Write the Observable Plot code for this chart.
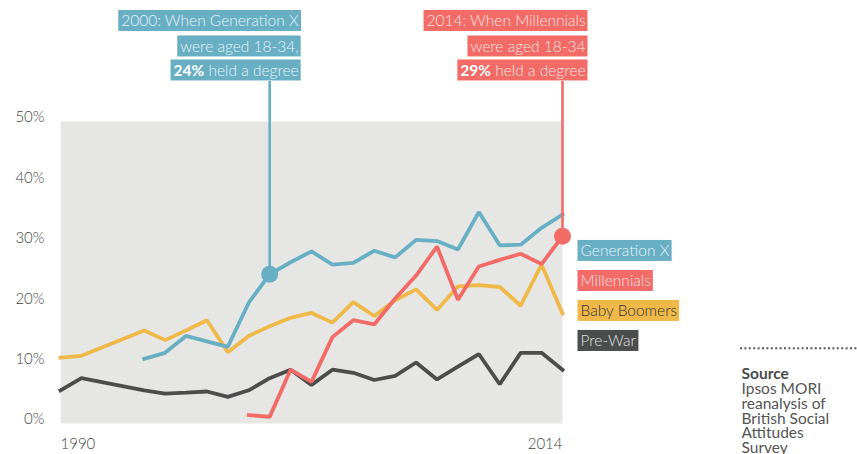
<!DOCTYPE html>
<html><head><meta charset="utf-8">
<script src="https://cdn.jsdelivr.net/npm/d3@7"></script>
<script src="https://cdn.jsdelivr.net/npm/@observablehq/plot@0.6"></script>
<style>
html,body{margin:0;padding:0;background:#fff;}
#chart svg{display:block;}
</style></head><body>
<div id="chart"></div>
<script>
// ---------- data ----------
const years = [1990,1991,1994,1995,1996,1997,1998,1999,2000,2001,2002,2003,2004,2005,2006,2007,2008,2009,2010,2011,2012,2013,2014];
const preWar      = [5.5,7.5,5.5,4.95,5.1,5.3,4.4,5.5,7.5,8.9,6.4,8.9,8.4,7.2,7.9,10.1,7.3,9.4,11.5,6.5,11.7,11.7,8.9];
const babyBoomers = [10.9,11.2,15.4,13.8,15.4,17.1,11.8,14.5,16.1,17.5,18.3,16.7,20.1,17.8,20.4,22.2,18.8,22.7,22.9,22.6,19.5,26.3,18.2];
const generationX = [null,null,10.7,11.7,14.5,13.6,12.7,20.0,24.7,26.7,28.5,26.3,26.6,28.6,27.5,30.4,30.2,28.8,35.0,29.5,29.6,32.4,34.6];
const millennials = [null,null,null,null,null,null,null,1.4,1.1,8.9,6.9,14.3,17.1,16.4,20.7,24.5,29.3,20.5,26.0,27.1,28.1,26.4,31.0];

const seriesNames = ["Generation X","Millennials","Baby Boomers","Pre-War"];
const seriesValues = [generationX, millennials, babyBoomers, preWar];
const seriesColors = ["#68afc4","#f26b66","#efb94a","#4b4c4c"];
const legendTextColors = ["#e3f2f6","#fde2e1","#333333","#e2e2e2"];

const yTicks = [0,10,20,30,40,50];
const xTickLabels = [1990, 2014];

const annYears = [2000, 2014];
const annValues = [24.7, 31.0];
const annSeries = ["Generation X","Millennials"];
const annLines = [
  ["2000: When Generation X","were aged 18-34,","24% held a degree"],
  ["2014: When Millennials","were aged 18-34","29% held a degree"]
];
const annBold = ["24%","29%"];

const sourceTitle = "Source";
const sourceLines = ["Ipsos MORI","reanalysis of","British Social","Attitudes","Survey"];

// ---------- layout ----------
const W = 857, H = 454, mL = 60, mR = 295, mT = 121, mB = 31;
const FONT = "Lato, 'Open Sans', sans-serif";
const LIGHT = 300;
const xPx = d3.scaleLinear([1990, 2014], [mL, W - mR]);
const yPx = d3.scaleLinear([0, 50], [H - mB, mT]);
const annLineY = [21, 46.5, 70.5];
const annBoxBottom = 81;
const legendTop = 251, legendStep = 30;

const colorOf = name => seriesColors[seriesNames.indexOf(name)];

function seriesRows(i) {
  return years.map((y, j) => ({year: y, value: seriesValues[i][j]})).filter(d => d.value != null);
}

const marks = [
  Plot.frame({fill: "#e6e6e4", stroke: "none"}),
  // y tick labels
  Plot.text(yTicks, {y: d => d, frameAnchor: "left", textAnchor: "end", dx: -16, dy: -4,
    text: d => d + "%", fill: "#444", fontSize: 15, fontFamily: FONT, fontWeight: LIGHT}),
  // x labels
  Plot.text([xTickLabels[0]], {x: d => d, frameAnchor: "bottom", textAnchor: "start", dy: 25,
    text: d => String(d), fill: "#444", fontSize: 15, fontFamily: FONT, fontWeight: LIGHT}),
  Plot.text([xTickLabels[1]], {x: d => d, frameAnchor: "bottom", textAnchor: "end", dy: 25,
    text: d => String(d), fill: "#444", fontSize: 15, fontFamily: FONT, fontWeight: LIGHT}),
];

// lines: drawn Pre-War, Baby Boomers, Gen X, Millennials
[3, 2, 0, 1].forEach(i => {
  marks.push(Plot.line(seriesRows(i), {x: "year", y: "value", stroke: seriesColors[i], strokeWidth: 3.8,
    strokeLinejoin: "miter", strokeLinecap: "square"}));
});

// annotation connectors + dots + text
annYears.forEach((yr, k) => {
  const c = colorOf(annSeries[k]);
  marks.push(Plot.ruleX([yr], {x: d => d, y1: () => annValues[k], y2: () => yPx.invert(annBoxBottom),
    stroke: c, strokeWidth: 2.6}));
  marks.push(Plot.dot([yr], {x: d => d, y: () => annValues[k], r: 8.5, fill: c, stroke: "none"}));
  marks.push(Plot.text(annLines[k], {x: () => yr, y: (d, i) => yPx.invert(annLineY[i]),
    textAnchor: "end", dx: k === 0 ? 29 : 23, fill: k === 0 ? "#e6f3f7" : "#fde4e3",
    fontSize: 15.5, fontFamily: FONT, fontWeight: LIGHT, className: "boxed-ann" + k}));
});

// legend labels
marks.push(Plot.text(seriesNames, {x: () => 2014, y: (d, i) => yPx.invert(legendTop + legendStep * i),
  textAnchor: "start", dx: 18, fill: (d, i) => legendTextColors[i], fontSize: 15.5, fontFamily: FONT,
  fontWeight: LIGHT, className: "boxed-legend"}));

// source block
marks.push(Plot.ruleY([yPx.invert(347.7)], {y: d => d, x1: () => xPx.invert(740), x2: () => xPx.invert(857),
  stroke: "#555", strokeWidth: 2, strokeDasharray: "2 2.4"}));
marks.push(Plot.text([sourceTitle], {x: () => xPx.invert(741), y: () => yPx.invert(373.5), textAnchor: "start",
  fill: "#4a4a4a", fontWeight: "bold", fontSize: 15.5, fontFamily: FONT}));
marks.push(Plot.text([sourceLines.join("\n")], {x: () => xPx.invert(741), y: () => yPx.invert(389 + 14.7 * 2),
  textAnchor: "start", lineAnchor: "middle", lineHeight: 0.95,
  fill: "#555", fontSize: 15.5, fontFamily: FONT}));

const svg = Plot.plot({
  width: W, height: H,
  marginLeft: mL, marginRight: mR, marginTop: mT, marginBottom: mB,
  x: {domain: [1990, 2014], axis: null},
  y: {domain: [0, 50], axis: null},
  style: {fontFamily: FONT, background: "#fff", overflow: "visible"},
  marks
});
document.getElementById("chart").append(svg);

// ---------- post: bold runs and label boxes ----------
const NS = "http://www.w3.org/2000/svg";
function boxTexts(cls, fillFn) {
  svg.querySelectorAll("g." + cls + " text").forEach((t, i) => {
    const bold = annBold.find(b => t.textContent.startsWith(b + " "));
    if (bold) {
      const rest = t.textContent.slice(bold.length);
      t.textContent = "";
      const b1 = document.createElementNS(NS, "tspan");
      b1.setAttribute("font-weight", "bold"); b1.setAttribute("fill", "#ffffff");
      b1.textContent = bold;
      const b2 = document.createElementNS(NS, "tspan");
      b2.textContent = rest;
      t.append(b1, b2);
    }
    const bb = t.getBBox();
    const r = document.createElementNS(NS, "rect");
    const cy = bb.y + bb.height / 2;
    r.setAttribute("x", bb.x - 3);
    r.setAttribute("width", bb.width + 5);
    r.setAttribute("y", cy - 10.5);
    r.setAttribute("height", 21);
    r.setAttribute("fill", fillFn(i));
    if (t.getAttribute("transform")) r.setAttribute("transform", t.getAttribute("transform"));
    t.parentNode.insertBefore(r, t);
  });
}
boxTexts("boxed-ann0", () => colorOf(annSeries[0]));
boxTexts("boxed-ann1", () => colorOf(annSeries[1]));
boxTexts("boxed-legend", i => seriesColors[i]);
</script>
</body></html>
